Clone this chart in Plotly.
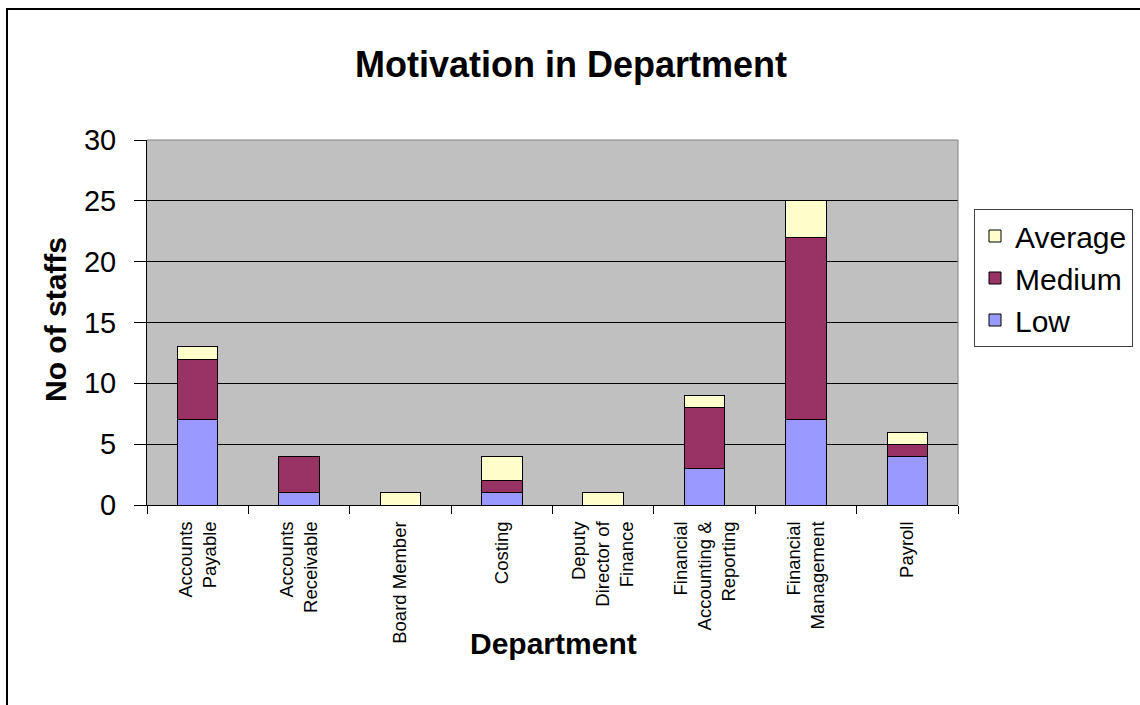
import plotly.graph_objects as go

# Staff motivation counts by department
categories = [
    "Accounts<br>Payable",
    "Accounts<br>Receivable",
    "Board Member",
    "Costing",
    "Deputy<br>Director of<br>Finance",
    "Financial<br>Accounting &<br>Reporting",
    "Financial<br>Management",
    "Payroll",
]
low = [7, 1, 0, 1, 0, 3, 7, 4]
medium = [5, 3, 0, 1, 0, 5, 15, 1]
average = [1, 0, 1, 2, 1, 1, 3, 1]

FONT = "Liberation Sans, Arial, sans-serif"

# plot-area geometry in pixels (used to place paper-relative items)
PL, PR, PT, PB = 147, 958, 140, 505
PW, PH = PR - PL, PB - PT


def px_x(x):
    return (x - PL) / PW


def px_y(y):
    return (PB - y) / PH


fig = go.Figure()
series = [("Low", low, "#9999FF", 3), ("Medium", medium, "#993366", 2), ("Average", average, "#FFFFCC", 1)]
for name, vals, color, rank in series:
    fig.add_trace(go.Bar(
        x=categories, y=vals, name=name, legendrank=rank,
        marker=dict(color=color, line=dict(color="black", width=1)),
    ))

fig.update_layout(
    width=1140, height=705,
    margin=dict(l=PL, r=1140 - PR, t=PT, b=705 - PB, autoexpand=False),
    barmode="stack", bargap=0.6,
    paper_bgcolor="white", plot_bgcolor="#C0C0C0",
    font=dict(family=FONT, color="black"),
    title=dict(text="<b>Motivation in Department</b>", x=571 / 1140,
               xanchor="center", y=1 - 64 / 705, yanchor="middle",
               font=dict(size=36, family=FONT, color="black")),
    showlegend=True,
    legend=dict(
        x=px_x(974), xanchor="left", y=px_y(209), yanchor="top",
        traceorder="normal",
        bordercolor="#404040", borderwidth=1, bgcolor="white",
        font=dict(size=30, family=FONT, color="black"),
        itemwidth=30,
    ),
    xaxis=dict(
        type="category", tickson="boundaries", ticks="outside", ticklen=8,
        tickcolor="black", showline=True, linecolor="black", linewidth=1,
        tickangle=-90, tickfont=dict(size=18.5, family=FONT, color="black"),
        showgrid=False, mirror=False, ticklabelstandoff=8,
    ),
    yaxis=dict(
        range=[0, 30], dtick=5, ticks="outside", ticklen=12, tickcolor="black",
        showline=True, linecolor="black", linewidth=1,
        showgrid=True, gridcolor="black", gridwidth=1, zeroline=False,
        tickfont=dict(size=29, family=FONT, color="black"), ticklabelstandoff=12,
    ),
    shapes=[
        # plot-area frame on the top and right sides
        dict(type="line", xref="paper", yref="paper", x0=0, x1=1, y0=1, y1=1,
             line=dict(color="#808080", width=1)),
        dict(type="line", xref="paper", yref="paper", x0=1, x1=1, y0=0, y1=1,
             line=dict(color="#808080", width=1)),
        # chart border
        dict(type="rect", xref="paper", yref="paper",
             x0=px_x(7), x1=px_x(1150), y0=px_y(715), y1=px_y(9),
             line=dict(color="black", width=2), fillcolor="rgba(0,0,0,0)", layer="below"),
    ],
    annotations=[
        dict(text="<b>No of staffs</b>", xref="paper", yref="paper",
             x=px_x(55), y=px_y(320), xanchor="center", yanchor="middle",
             textangle=-90, showarrow=False, font=dict(size=30, family=FONT, color="black")),
        dict(text="<b>Department</b>", xref="paper", yref="paper",
             x=px_x(553), y=px_y(643), xanchor="center", yanchor="middle",
             showarrow=False, font=dict(size=30, family=FONT, color="black")),
    ],
)

fig.write_html("out.html")
